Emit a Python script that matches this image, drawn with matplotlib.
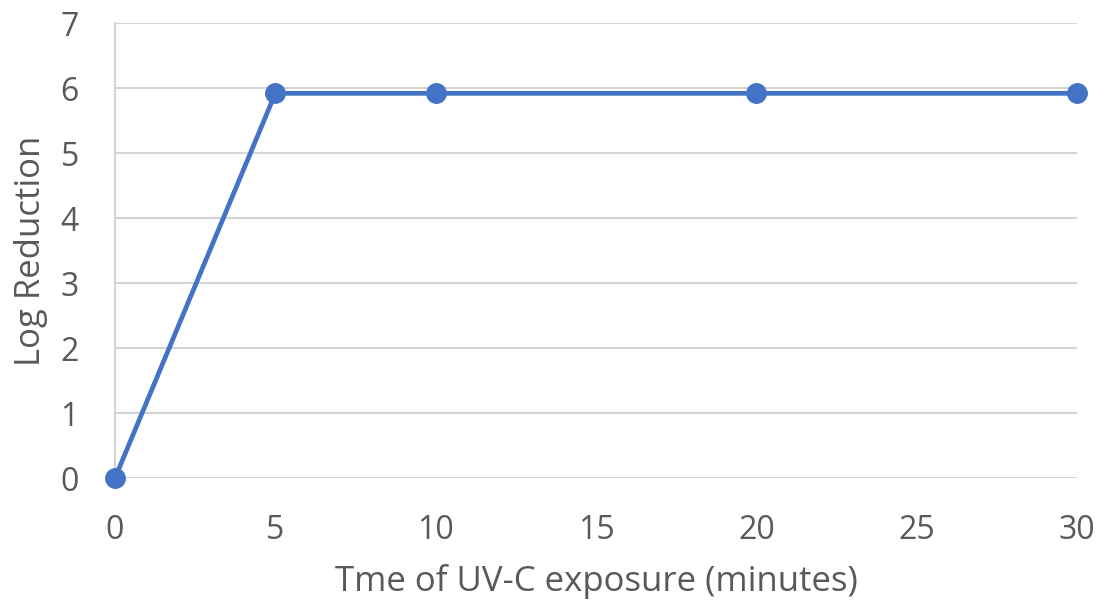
import matplotlib
matplotlib.use("Agg")
import matplotlib.pyplot as plt

time_min = [0, 5, 10, 20, 30]
log_reduction = [0, 5.92, 5.92, 5.92, 5.92]
x_ticks = [0, 5, 10, 15, 20, 25, 30]
y_ticks = [0, 1, 2, 3, 4, 5, 6, 7]

plt.rcParams['font.family'] = ['Open Sans', 'DejaVu Sans']
fig = plt.figure(figsize=(11.11, 6.09), dpi=100)
ax = fig.add_axes([0.1035, 0.215, 0.866, 0.747])
ax.plot(time_min, log_reduction, color='#4472C4', lw=3.4, marker='o', ms=14,
        clip_on=False, zorder=3)
ax.set_xlim(0, 30)
ax.set_ylim(0, 7)
ax.set_xticks(x_ticks)
ax.set_yticks(y_ticks)
ax.grid(axis='y', color='#D4D4D4', lw=1.5)
ax.set_axisbelow(True)
for s in ['top', 'right', 'bottom']:
    ax.spines[s].set_visible(False)
ax.spines['left'].set_color('#D4D4D4')
ax.spines['left'].set_linewidth(1.5)
ax.tick_params(axis='both', length=0, labelsize=23, labelcolor='#595959')
ax.tick_params(axis='x', pad=26)
ax.tick_params(axis='y', pad=26)
ax.set_xlabel('Tme of UV-C exposure (minutes)', fontsize=25, color='#595959', labelpad=12)
ax.set_ylabel('Log Reduction', fontsize=25, color='#595959', labelpad=9)
fig.savefig('out.png', dpi=100, facecolor='white')
